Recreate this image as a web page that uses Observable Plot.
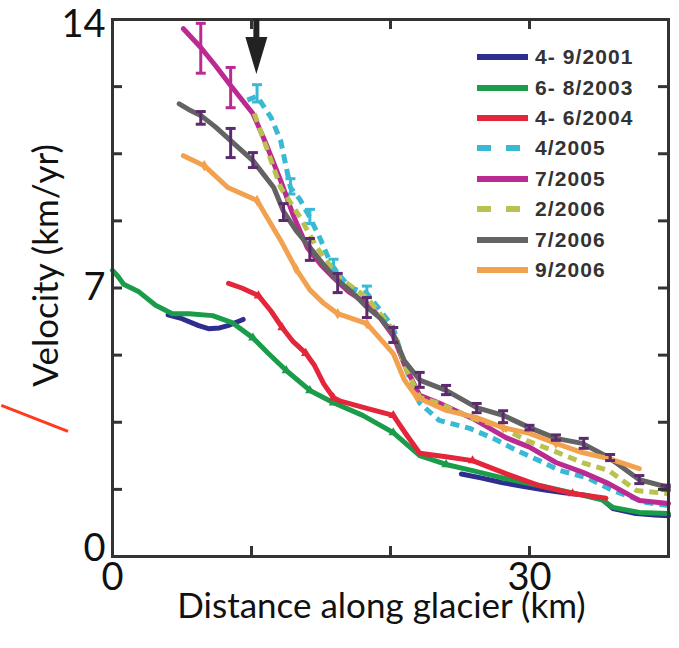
<!DOCTYPE html>
<html><head><meta charset="utf-8">
<script src="https://cdn.jsdelivr.net/npm/d3@7"></script>
<script src="https://cdn.jsdelivr.net/npm/@observablehq/plot@0.6"></script>
<style>
body{margin:0;background:#fff;}
#wrap{position:relative;width:679px;height:648px;}
#legend{position:absolute;left:477px;top:42px;font-family:"Liberation Sans",Arial,sans-serif;font-weight:bold;font-size:21px;color:#333;letter-spacing:1.1px;}
.row{height:30.4px;display:flex;align-items:center;}
.row svg{margin-right:7px;flex:none}
</style></head><body><div id="wrap"><div id="legend"></div></div>
<script>
// ---- series labels ----
const seriesNames = ["4- 9/2001","6- 8/2003","4- 6/2004","4/2005","7/2005","2/2006","7/2006","9/2006"];

// ---- distance (km) / velocity (km/yr) per series ----
const km2001 = [4.0, 5.0, 6.2, 6.9, 7.7, 8.3, 9.0, 9.4, null, 25.1, 26.5, 28.0, 29.5, 31.0, 32.5, 34.0, 35.2, 36.0, 37.5, 39.0, 40.0];
const v2001  = [6.3, 6.2, 6.02, 5.94, 5.96, 6.02, 6.12, 6.18, null, 2.15, 2.05, 1.93, 1.83, 1.74, 1.66, 1.6, 1.5, 1.25, 1.13, 1.08, 1.06];

const km2003 = [0, 0.4, 0.8, 1.9, 3.1, 4.3, 5.5, 7.2, 8.6, 10.1, 11.2, 12.5, 14.2, 15.9, 18.0, 20.2, 22.1, 24.0, 25.9, 28.3, 30.7, 33.1, 35.2, 36.0, 37.9, 40.0];
const v2003  = [7.46, 7.3, 7.1, 6.9, 6.55, 6.33, 6.33, 6.28, 6.1, 5.7, 5.3, 4.85, 4.33, 4.01, 3.68, 3.23, 2.63, 2.4, 2.24, 2.03, 1.85, 1.66, 1.48, 1.28, 1.15, 1.12];

const km2004 = [8.35, 9.3, 10.5, 11.4, 12.2, 13.0, 13.9, 14.5, 15.2, 15.9, 16.4, 18.3, 20.2, 21.1, 22.1, 24.0, 25.9, 28.3, 30.7, 33.1, 35.5];
const v2004  = [7.12, 7.0, 6.8, 6.4, 5.97, 5.6, 5.3, 5.0, 4.5, 4.14, 4.05, 3.86, 3.68, 3.2, 2.69, 2.6, 2.5, 2.16, 1.85, 1.64, 1.52];

const km2005a = [9.7, 10.4, 11.4, 12.1, 12.8, 13.5, 14.2, 15.0, 15.7, 16.4, 17.1, 18.3, 19.3, 20.2, 21.0, 22.1, 23.5, 25.7, 27.4, 29.1, 30.7, 32.2, 34.1, 36.0, 38.4, 40.0];
const v2005a  = [11.9, 12.0, 11.45, 10.84, 9.62, 9.3, 8.84, 8.24, 7.64, 7.3, 7.01, 6.86, 6.4, 5.97, 5.0, 4.0, 3.55, 3.34, 3.08, 2.76, 2.5, 2.24, 2.06, 1.72, 1.41, 1.33];

const km2005b = [5.1, 6.35, 7.4, 8.5, 10.1, 11.0, 12.1, 13.0, 14.0, 15.0, 15.9, 17.0, 18.3, 19.3, 20.2, 21.0, 22.1, 23.5, 25.9, 28.3, 30.0, 31.9, 33.8, 35.7, 37.9, 40.0];
const v2005b  = [13.76, 13.27, 12.8, 12.28, 11.55, 10.8, 9.8, 8.9, 8.06, 7.6, 7.27, 6.9, 6.6, 6.2, 5.75, 5.0, 4.2, 4.0, 3.6, 3.1, 2.85, 2.45, 2.2, 1.9, 1.46, 1.38];

const km2006a = [10.2, 10.9, 12.1, 13.5, 14.7, 16.2, 18.3, 20.2, 21.0, 22.1, 23.5, 25.9, 27.8, 29.8, 31.7, 33.8, 35.7, 37.7, 40.0];
const v2006a  = [11.55, 10.84, 9.62, 8.84, 8.06, 7.3, 6.75, 5.9, 5.0, 4.15, 3.99, 3.6, 3.41, 3.02, 2.76, 2.45, 2.24, 1.72, 1.64];

const km2006b = [4.8, 5.5, 6.35, 7.4, 8.5, 10.1, 11.6, 12.3, 13.2, 14.2, 15.2, 16.2, 17.2, 18.3, 19.3, 20.2, 21.0, 22.1, 24.0, 26.2, 28.1, 30.0, 31.9, 33.8, 35.7, 37.9, 40.0];
const v2006b  = [11.8, 11.65, 11.5, 11.2, 10.84, 10.32, 9.62, 9.0, 8.5, 8.06, 7.6, 7.2, 6.9, 6.5, 6.2, 5.8, 5.1, 4.6, 4.33, 3.88, 3.68, 3.36, 3.08, 2.95, 2.58, 2.0, 1.8];

const km2006c = [5.1, 6.6, 8.3, 10.4, 12.1, 13.2, 14.2, 15.2, 16.2, 18.3, 20.2, 21.0, 21.9, 24.0, 26.2, 28.1, 30.0, 31.9, 33.8, 35.7, 37.9];
const v2006c  = [10.45, 10.19, 9.62, 9.28, 8.24, 7.5, 6.95, 6.6, 6.33, 6.07, 5.29, 4.6, 4.15, 3.81, 3.62, 3.36, 3.21, 2.95, 2.71, 2.55, 2.29];

// ---- small markers along the 2003 / 2004 / 9-2006 lines (km) ----
const mark2003 = [10.1, 12.5, 14.2, 15.9, 20.2, 24.0, 28.3];
const mark2004 = [10.5, 12.2, 13.9, 15.9, 20.2, 25.9, 33.1];
const mark2006c = [6.6, 10.4, 13.2, 16.2, 18.3, 21.9, 28.1, 31.9];

// ---- error bars (km, low, high) ----
const errGrayKm = [6.35, 8.5, 10.1, 12.3, 14.2, 16.2, 18.3, 20.2, 22.1, 24.0, 26.2, 28.1, 30.0, 31.9, 33.9, 35.8, 37.9, 39.8];
const errGrayLo = [11.27, 10.4, 10.14, 8.76, 7.72, 6.88, 6.23, 5.58, 4.41, 4.22, 3.75, 3.49, 3.3, 3.03, 2.82, 2.5, 1.9, 1.73];
const errGrayHi = [11.6, 11.16, 10.53, 9.2, 8.29, 7.38, 6.75, 5.97, 4.8, 4.46, 3.99, 3.8, 3.42, 3.17, 3.08, 2.66, 2.11, 1.86];

const errMagKm = [6.35, 8.5];
const errMagLo = [12.6, 11.7];
const errMagHi = [13.9, 12.75];

const errCyanKm = [10.4, 12.8, 14.2, 15.9, 18.3];
const errCyanLo = [11.85, 9.45, 8.68, 7.45, 6.75];
const errCyanHi = [12.3, 9.85, 9.05, 7.75, 7.05];

// ---- axes ----
const xTickVals = [10, 20, 30];
const xLabelVals = [0, 30];
const yTickVals = [1.75, 3.5, 5.25, 7, 8.75, 10.5, 12.25];
const yLabelMid = [7];
const yLabelTop = [14];
const yLabelZero = [0];
const xTitle = "Distance along glacier (km)";
const yTitle = "Velocity (km/yr)";

// ---- annotations ----
const arrowAnnot = [{km: 10.35, top: 14, stemEnd: 13.4, head: 13.05}];
const pointerLine = [{x1: -8.0, y1: 3.94, x2: -3.2, y2: 3.26}];
const yTitlePos = [{km: -4.75, v: 7.59}];

// ---- styling (separate from data) ----
const palette = ["#2e2e8e", "#1b9c4b", "#e3263a", "#38b9d4", "#bb2a92", "#b9c24f", "#636363", "#f2a24e"];
const dashed = [false, false, false, true, false, true, false, false];

const kmArrays = [km2001, km2003, km2004, km2005a, km2005b, km2006a, km2006b, km2006c];
const vArrays = [v2001, v2003, v2004, v2005a, v2005b, v2006a, v2006b, v2006c];

const seriesRows = seriesNames.map((name, i) =>
  kmArrays[i].map((k, j) => ({series: name, km: k, v: vArrays[i][j]})));

const markerRows = (kms, i) => kms.map(k => {
  const j = kmArrays[i].indexOf(k);
  return {km: k, v: vArrays[i][j]};
});

const errRows = (kms, lo, hi) => kms.map((k, i) => ({km: k, lo: lo[i], hi: hi[i]}));
const errGray = errRows(errGrayKm, errGrayLo, errGrayHi);
const errMag = errRows(errMagKm, errMagLo, errMagHi);
const errCyan = errRows(errCyanKm, errCyanLo, errCyanHi);

const capSymbol = {draw(ctx) { ctx.moveTo(-5, 0); ctx.lineTo(5, 0); }};
const headSymbol = {draw(ctx) { ctx.moveTo(-11, -19); ctx.lineTo(11, -19); ctx.lineTo(0, 18); ctx.closePath(); }};

function errMarks(rows, color) {
  return [
    Plot.ruleX(rows, {x: "km", y1: "lo", y2: "hi", stroke: color, strokeWidth: 3}),
    Plot.dot(rows, {x: "km", y: "lo", symbol: capSymbol, stroke: color, strokeWidth: 3, fill: "none"}),
    Plot.dot(rows, {x: "km", y: "hi", symbol: capSymbol, stroke: color, strokeWidth: 3, fill: "none"})
  ];
}

const lineMarks = seriesRows.map((rows, i) => Plot.line(rows, {
  x: "km", y: "v", stroke: palette[i], strokeWidth: 5,
  strokeDasharray: dashed[i] ? "9,6" : null, strokeLinejoin: "round", strokeLinecap: dashed[i] ? "butt" : "round",
  defined: d => d.v != null && d.km != null
}));

const W = 679, H = 648, ML = 112, MR = 11, MT = 19, MB = 92;
const FW = W - ML - MR, FH = H - MT - MB;
const tickFont = 38, titleFont = 35;

const chart = Plot.plot({
  width: W, height: H,
  marginLeft: ML, marginRight: MR, marginTop: MT, marginBottom: MB,
  style: {fontFamily: "Lato, 'Open Sans', sans-serif", background: "white", overflow: "visible"},
  x: {domain: [0, 40], label: null},
  y: {domain: [0, 14], label: null},
  marks: [
    lineMarks[0],
    lineMarks[1],
    Plot.dot(markerRows(mark2003, 1), {x: "km", y: "v", symbol: "triangle", r: 3.5, fill: palette[1]}),
    lineMarks[2],
    Plot.dot(markerRows(mark2004, 2), {x: "km", y: "v", symbol: "triangle", r: 3.5, fill: palette[2]}),
    lineMarks[3],
    ...errMarks(errCyan, palette[3]),
    lineMarks[4],
    ...errMarks(errMag, palette[4]),
    lineMarks[5],
    lineMarks[6],
    lineMarks[7],
    Plot.dot(markerRows(mark2006c, 7), {x: "km", y: "v", symbol: "diamond", r: 3.5, fill: palette[7]}),
    ...errMarks(errGray, "#5b2b6e"),
    Plot.frame({stroke: "#333", strokeWidth: 3}),
    Plot.tickY(yTickVals, {y: d => d, insetRight: FW - 10, stroke: "#333", strokeWidth: 3}),
    Plot.tickY(yTickVals, {y: d => d, insetLeft: FW - 10, stroke: "#333", strokeWidth: 3}),
    Plot.tickX(xTickVals, {x: d => d, insetTop: FH - 10, stroke: "#333", strokeWidth: 3}),
    Plot.tickX(xTickVals, {x: d => d, insetBottom: FH - 10, stroke: "#333", strokeWidth: 3}),
    Plot.axisY(yLabelMid, {tickSize: 0, tickPadding: 7, fontSize: tickFont, fill: "#111", label: null}),
    Plot.axisY(yLabelTop, {tickSize: 0, tickPadding: 7, fontSize: tickFont, fill: "#111", dy: 5, label: null}),
    Plot.axisY(yLabelZero, {tickSize: 0, tickPadding: 7, fontSize: tickFont, fill: "#111", dy: -8, label: null}),
    Plot.axisX(xLabelVals, {tickSize: 0, tickPadding: 7, fontSize: tickFont, fill: "#111", label: null}),
    Plot.text([xTitle], {text: d => d, frameAnchor: "bottom", lineAnchor: "middle", textAnchor: "middle", dy: 50, dx: -9, fontSize: titleFont, fill: "#111"}),
    Plot.text(yTitlePos, {x: "km", y: "v", text: () => yTitle, lineAnchor: "middle", textAnchor: "middle", rotate: -90, fontSize: titleFont, fill: "#111"}),
    Plot.ruleX(arrowAnnot, {x: "km", y1: "top", y2: "stemEnd", stroke: "#222", strokeWidth: 6}),
    Plot.dot(arrowAnnot, {x: "km", y: "head", symbol: headSymbol, fill: "#222", stroke: "none"}),
    Plot.link(pointerLine, {x1: "x1", y1: "y1", x2: "x2", y2: "y2", stroke: "#ff3b1f", strokeWidth: 3})
  ]
});

document.getElementById("wrap").prepend(chart);

// legend inside the frame
const legend = document.getElementById("legend");
seriesNames.forEach((name, i) => {
  const row = document.createElement("div");
  row.className = "row";
  const dash = dashed[i] ? `stroke-dasharray="14,15"` : "";
  row.innerHTML = `<svg width="51" height="8"><line x1="0" x2="51" y1="4" y2="4" stroke="${palette[i]}" stroke-width="6" ${dash}/></svg><span>${name}</span>`;
  legend.appendChild(row);
});
</script></body></html>
